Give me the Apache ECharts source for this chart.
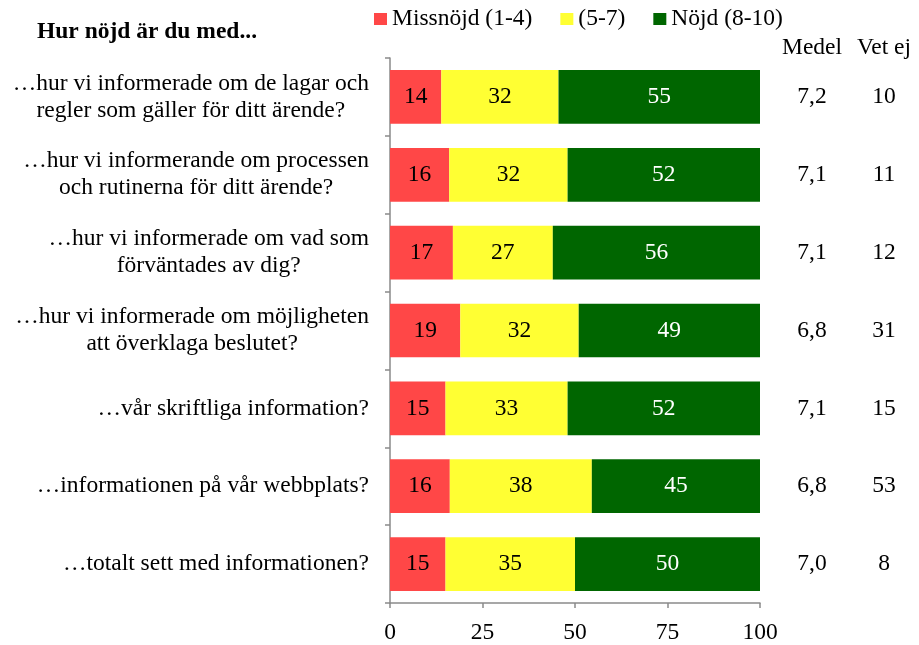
<!DOCTYPE html>
<html>
<head>
<meta charset="utf-8">
<script src="https://cdn.jsdelivr.net/npm/echarts@6/dist/echarts.min.js"></script>
<style>
  html, body { margin: 0; padding: 0; background: #fff; }
  #chart { width: 919px; height: 645px; }
</style>
</head>
<body>
<div id="chart"></div>
<script>
// frågor (kategorier)
const questions = [
  '…hur vi informerade om de lagar och\nregler som gäller för ditt ärende?',
  '…hur vi informerande om processen\noch rutinerna för ditt ärende?',
  '…hur vi informerade om vad som\nförväntades av dig?',
  '…hur vi informerade om möjligheten\natt överklaga beslutet?',
  '…vår skriftliga information?',
  '…informationen på vår webbplats?',
  '…totalt sett med informationen?'
]
const missnojd = [14, 16, 17, 19, 15, 16, 15]
const mellan = [32, 32, 27, 32, 33, 38, 35]
const nojd = [55, 52, 56, 49, 52, 45, 50]
const medel = [7.2, 7.1, 7.1, 6.8, 7.1, 6.8, 7.0]
const vetEj = [10, 11, 12, 31, 15, 53, 8]
const xTicks = [0, 25, 50, 75, 100]

const font = "'Liberation Serif', 'Times New Roman', serif"
const fs = 23.5
const axisGray = '#8a8a8a'

// staplarna är 100 % staplade, etiketterna visar de avrundade talen
const share = (arr, i) => arr[i] / (missnojd[i] + mellan[i] + nojd[i]) * 100

const chartInstance = echarts.init(document.getElementById('chart'))

const makeSeries = (name, arr, color, labelColor) => ({
  name: name,
  type: 'bar',
  stack: 'total',
  barCategoryGap: '31%',
  data: arr.map((v, i) => share(arr, i)),
  itemStyle: { color: color },
  label: {
    show: true,
    position: 'inside',
    color: labelColor,
    fontFamily: font,
    fontSize: fs,
    formatter: p => arr[p.dataIndex]
  }
})

const sideAxis = (name, values, offset) => ({
  type: 'category',
  inverse: true,
  position: 'right',
  offset: offset,
  data: values,
  name: name,
  nameLocation: 'start',
  nameGap: 10,
  nameTextStyle: { fontFamily: font, fontSize: fs, color: '#000', align: 'center', verticalAlign: 'middle' },
  axisLine: { show: false },
  axisTick: { show: false },
  axisLabel: { margin: 0, align: 'center', fontFamily: font, fontSize: fs, color: '#000' }
})

const option = {
  animation: false,
  title: {
    text: 'Hur nöjd är du med...',
    left: 32,
    top: 15,
    textStyle: { fontFamily: font, fontSize: fs, fontWeight: 'bold', color: '#000' }
  },
  legend: {
    left: 369,
    top: 2,
    icon: 'rect',
    itemWidth: 13,
    itemHeight: 12,
    itemGap: 28,
    textStyle: { fontFamily: font, fontSize: fs, color: '#000' },
    data: ['Missnöjd (1-4)', '(5-7)', 'Nöjd (8-10)']
  },
  grid: { left: 390, right: 159, top: 58, bottom: 42, containLabel: false },
  xAxis: {
    type: 'value',
    min: 0,
    max: 100,
    interval: 25,
    splitLine: { show: false },
    axisLine: { show: true, lineStyle: { color: axisGray, width: 1.5 } },
    axisTick: { show: true, length: 5, lineStyle: { color: axisGray, width: 1.5 } },
    axisLabel: { margin: 18, fontFamily: font, fontSize: fs, color: '#000', formatter: v => xTicks.includes(v) ? v : '' }
  },
  yAxis: [
    {
      type: 'category',
      inverse: true,
      data: questions,
      axisLine: { show: true, lineStyle: { color: axisGray, width: 1.5 } },
      axisTick: { show: true, length: 5, lineStyle: { color: axisGray, width: 1.5 } },
      axisLabel: {
        margin: 21,
        fontFamily: font,
        fontSize: fs,
        color: '#000',
        lineHeight: 27,
        formatter: v => v.split('\n').map(l => '{c|' + l + '}').join('\n'),
        rich: { c: { align: 'center', fontFamily: font, fontSize: fs, color: '#000', lineHeight: 27 } }
      }
    },
    sideAxis('Medel', medel.map(v => v.toFixed(1).replace('.', ',')), 52),
    sideAxis('Vet ej', vetEj.map(String), 124)
  ],
  series: [
    makeSeries('Missnöjd (1-4)', missnojd, '#ff4747', '#000'),
    makeSeries('(5-7)', mellan, '#ffff33', '#000'),
    makeSeries('Nöjd (8-10)', nojd, '#006600', '#fff')
  ]
}

chartInstance.setOption(option)

window.addEventListener('resize', function () {
  chartInstance.resize()
})
</script>
</body>
</html>
